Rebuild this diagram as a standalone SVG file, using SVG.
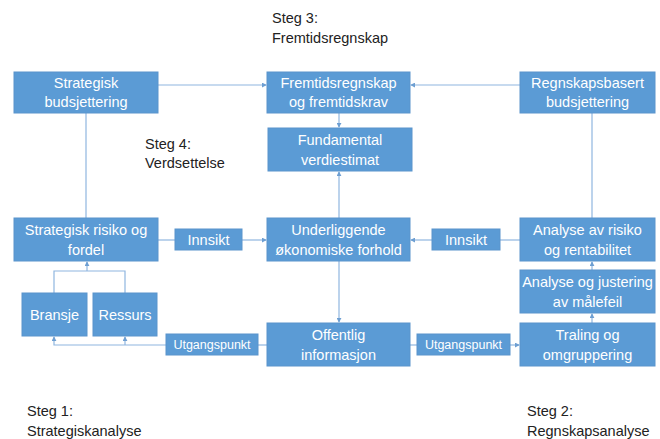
<svg xmlns="http://www.w3.org/2000/svg" width="660" height="439" viewBox="0 0 660 439">
<defs>
<style>
.b{fill:#5b9bd5;stroke:#5a94cc;stroke-width:1}
.t{font-family:"Liberation Sans",Arial,sans-serif;font-size:14.5px;fill:#ffffff;text-anchor:middle}
.s{font-size:12.5px}
.l{font-family:"Liberation Sans",Arial,sans-serif;font-size:14.5px;fill:#222222}
.c{fill:none;stroke:#8fb6df;stroke-width:1.2}
</style>
<marker id="a" viewBox="0 0 6 6" refX="5" refY="3" markerWidth="5" markerHeight="5" orient="auto" markerUnits="userSpaceOnUse">
<path d="M0,0L6,3L0,6z" fill="#6e9fd2"/>
</marker>
</defs>
<rect width="660" height="439" fill="#ffffff"/>
<g id="connectors">
<path class="c" d="M158,85H266" marker-end="url(#a)"/>
<path class="c" d="M520,85H411" marker-end="url(#a)"/>
<path class="c" d="M339,113V127" marker-end="url(#a)"/>
<path class="c" d="M339,218V172" marker-end="url(#a)"/>
<path class="c" d="M86,113V218"/>
<path class="c" d="M592,113V218"/>
<path class="c" d="M158,240H175"/>
<path class="c" d="M242,240H266" marker-end="url(#a)"/>
<path class="c" d="M520,240H500"/>
<path class="c" d="M432,240H411" marker-end="url(#a)"/>
<path class="c" d="M339,261V322" marker-end="url(#a)"/>
<path class="c" d="M410,345H417"/>
<path class="c" d="M510,345H519" marker-end="url(#a)"/>
<path class="c" d="M267,345H258"/>
<path class="c" d="M166,345H54V337" marker-end="url(#a)"/>
<path class="c" d="M125,345V337" marker-end="url(#a)"/>
<path class="c" d="M54,293V271H125V293"/>
<path class="c" d="M87,271V262" marker-end="url(#a)"/>
<path class="c" d="M592,323V314" marker-end="url(#a)"/>
<path class="c" d="M592,270V262" marker-end="url(#a)"/>
</g>
<g id="strategisk-budsjettering"><rect class="b" x="14" y="72" width="144" height="41"/><text class="t" x="86" y="88">Strategisk</text><text class="t" x="86" y="107">budsjettering</text></g>
<g id="fremtidsregnskap"><rect class="b" x="267" y="72" width="143" height="41"/><text class="t" x="338.5" y="88">Fremtidsregnskap</text><text class="t" x="338.5" y="107">og fremtidskrav</text></g>
<g id="regnskapsbasert"><rect class="b" x="520" y="72" width="135" height="41"/><text class="t" x="587.5" y="88">Regnskapsbasert</text><text class="t" x="587.5" y="107">budsjettering</text></g>
<g id="fundamental"><rect class="b" x="268" y="128" width="144" height="43"/><text class="t" x="340" y="145">Fundamental</text><text class="t" x="340" y="165">verdiestimat</text></g>
<g id="strategisk-risiko"><rect class="b" x="14" y="218" width="144" height="43"/><text class="t" x="86" y="235">Strategisk risiko og</text><text class="t" x="86" y="255">fordel</text></g>
<g id="innsikt-venstre"><rect class="b" x="175" y="229" width="67" height="21"/><text class="t" x="208.5" y="245">Innsikt</text></g>
<g id="underliggende"><rect class="b" x="267" y="218" width="143" height="43"/><text class="t" x="338.5" y="235">Underliggende</text><text class="t" x="338.5" y="255">økonomiske forhold</text></g>
<g id="innsikt-hoyre"><rect class="b" x="432" y="229" width="68" height="21"/><text class="t" x="466" y="245">Innsikt</text></g>
<g id="analyse-risiko"><rect class="b" x="520" y="218" width="135" height="43"/><text class="t" x="587.5" y="235">Analyse av risiko</text><text class="t" x="587.5" y="255">og rentabilitet</text></g>
<g id="analyse-justering"><rect class="b" x="520" y="270" width="135" height="43"/><text class="t" x="587.5" y="287">Analyse og justering</text><text class="t" x="587.5" y="307">av målefeil</text></g>
<g id="bransje"><rect class="b" x="22" y="293" width="65" height="43"/><text class="t" x="54.5" y="320">Bransje</text></g>
<g id="ressurs"><rect class="b" x="93" y="293" width="64" height="43"/><text class="t" x="125" y="320">Ressurs</text></g>
<g id="utgangspunkt-venstre"><rect class="b" x="166" y="334" width="92" height="21"/><text class="t s" x="212" y="349">Utgangspunkt</text></g>
<g id="offentlig"><rect class="b" x="267" y="323" width="143" height="43"/><text class="t" x="338.5" y="340">Offentlig</text><text class="t" x="338.5" y="360">informasjon</text></g>
<g id="utgangspunkt-hoyre"><rect class="b" x="417" y="334" width="93" height="21"/><text class="t s" x="463.5" y="349">Utgangspunkt</text></g>
<g id="traling"><rect class="b" x="520" y="323" width="135" height="43"/><text class="t" x="587.5" y="340">Traling og</text><text class="t" x="587.5" y="360">omgruppering</text></g>
<g id="labels">
<text class="l" x="272" y="23">Steg 3:</text>
<text class="l" x="272" y="43">Fremtidsregnskap</text>
<text class="l" x="145" y="149">Steg 4:</text>
<text class="l" x="145" y="168">Verdsettelse</text>
<text class="l" x="27" y="416">Steg 1:</text>
<text class="l" x="27" y="436">Strategiskanalyse</text>
<text class="l" x="527" y="416">Steg 2:</text>
<text class="l" x="527" y="436">Regnskapsanalyse</text>
</g>
</svg>
